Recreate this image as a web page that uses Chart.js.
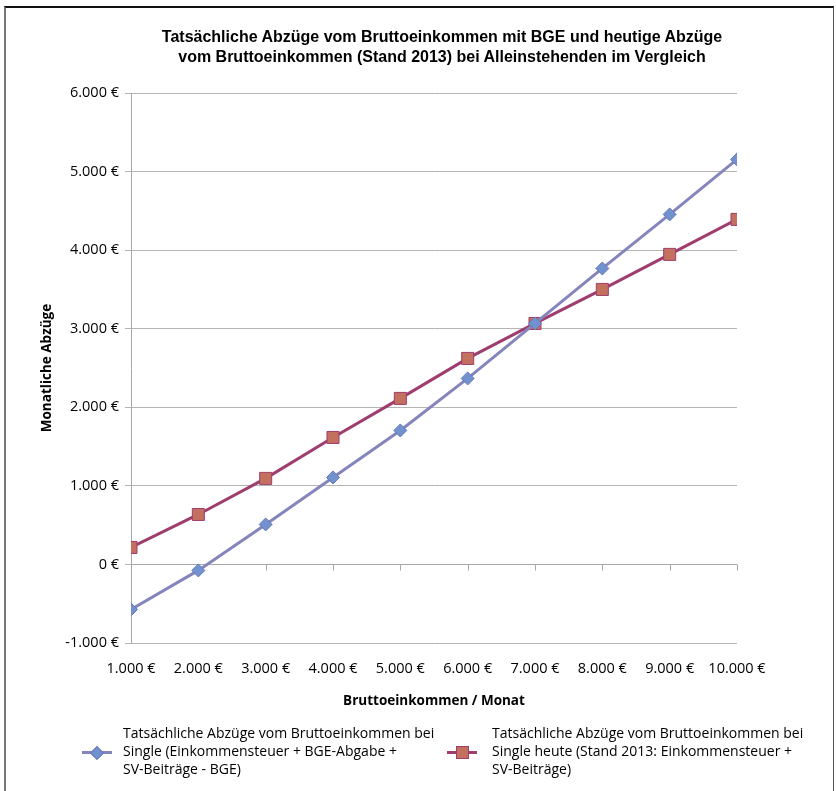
<!DOCTYPE html>
<html>
<head>
<meta charset="utf-8">
<script src="https://cdn.jsdelivr.net/npm/chart.js@4"></script>
<style>
  html, body { margin:0; padding:0; background:#fff; }
  #wrap { position:relative; width:836px; height:791px; overflow:hidden; }
  #frame { position:absolute; left:4px; top:6px; width:830px; height:790px;
           border-top:2px solid #111; border-left:2px solid #777; border-right:1px solid #555; box-sizing:border-box; }
  #chart { position:absolute; left:0; top:0; }
  #title { position:absolute; left:0; width:884px; top:27px; text-align:center;
           font:bold 16px "Liberation Sans", Arial, sans-serif; line-height:20px; color:#000; }
  .leg { position:absolute; top:724px; font:14px "Open Sans", sans-serif; line-height:18px; color:#000; }
  .leg .txt { position:absolute; white-space:nowrap; }
  .leg .ln { position:absolute; height:3px; top:27px; }
  .leg .mk { position:absolute; }
</style>
</head>
<body>
<div id="wrap">
  <canvas id="chart" width="836" height="791"></canvas>
  <div id="frame"></div>
  <div id="title">Tatsächliche Abzüge vom Bruttoeinkommen mit BGE und heutige Abzüge<br>vom Bruttoeinkommen (Stand 2013) bei Alleinstehenden im Vergleich</div>
  <div class="leg" style="left:82px">
    <div class="ln" style="left:0;width:30px;background:#8585bd"></div>
    <div class="mk" style="left:10px;top:24px;width:8px;height:8px;background:#7292cf;border:1px solid #6677bb;transform:rotate(45deg)"></div>
    <div class="txt" style="left:41px">Tatsächliche Abzüge vom Bruttoeinkommen bei<br>Single (Einkommensteuer + BGE-Abgabe +<br>SV-Beiträge - BGE)</div>
  </div>
  <div class="leg" style="left:447px">
    <div class="ln" style="left:0;width:30px;background:#9e3d6e"></div>
    <div class="mk" style="left:9px;top:22px;width:11px;height:11px;background:#c4705e;border:1px solid #9e3d6e"></div>
    <div class="txt" style="left:45px">Tatsächliche Abzüge vom Bruttoeinkommen bei<br>Single heute (Stand 2013: Einkommensteuer +<br>SV-Beiträge)</div>
  </div>
</div>
<script>
// ── data ──────────────────────────────────────────────
const incomes   = [1000, 2000, 3000, 4000, 5000, 6000, 7000, 8000, 9000, 10000];
const withBGE   = [-573, -76, 509, 1107, 1705, 2367, 3067, 3767, 4455, 5155];
const today2013 = [216, 636, 1095, 1616, 2113, 2622, 3067, 3500, 3946, 4391];
const yMin = -1000, yMax = 6000, yStep = 1000;

const euro = v => v.toLocaleString('de-DE') + ' €';
const tickFont = { family: '"Open Sans", sans-serif', size: 14.5 };

// small tick marks hanging below the zero line, like the category axis in the original
const zeroAxisTicks = {
  id: 'zeroAxisTicks',
  beforeDatasetsDraw(chart) {
    const { ctx, scales: { x, y } } = chart;
    const y0 = Math.round(y.getPixelForValue(0)) + 0.5;
    ctx.save();
    ctx.strokeStyle = '#a8a8a8';
    ctx.lineWidth = 1;
    ctx.beginPath();
    ctx.moveTo(x.left, y0);
    ctx.lineTo(x.right, y0);
    incomes.forEach(v => {
      const px = Math.round(x.getPixelForValue(v)) + 0.5;
      ctx.moveTo(px, y0);
      ctx.lineTo(px, y0 + 6);
    });
    ctx.stroke();
    ctx.restore();
  }
};

new Chart(document.getElementById('chart'), {
  type: 'line',
  data: {
    datasets: [{
      label: 'Tatsächliche Abzüge vom Bruttoeinkommen bei Single (Einkommensteuer + BGE-Abgabe + SV-Beiträge - BGE)',
      data: incomes.map((x, i) => ({ x, y: withBGE[i] })),
      borderColor: '#8585bd',
      borderWidth: 3,
      pointStyle: 'rectRot',
      pointRadius: 6.5,
      pointBackgroundColor: '#7292cf',
      pointBorderColor: '#6677bb',
      pointBorderWidth: 1,
    }, {
      label: 'Tatsächliche Abzüge vom Bruttoeinkommen bei Single heute (Stand 2013: Einkommensteuer + SV-Beiträge)',
      data: incomes.map((x, i) => ({ x, y: today2013[i] })),
      borderColor: '#9e3d6e',
      borderWidth: 3,
      pointStyle: 'rect',
      pointRadius: 8.5,
      pointBackgroundColor: '#c4705e',
      pointBorderColor: '#9e3d6e',
      pointBorderWidth: 1,
    }],
  },
  options: {
    responsive: false,
    animation: false,
    layout: { padding: { top: 93, right: 99, bottom: 82, left: 35 } },
    plugins: { legend: { display: false }, tooltip: { enabled: false } },
    scales: {
      x: {
        type: 'linear',
        min: incomes[0], max: incomes[incomes.length - 1],
        afterBuildTicks: s => { s.ticks = incomes.map(v => ({ value: v })); },
        grid: { display: false },
        border: { display: false },
        ticks: { callback: v => euro(v), color: '#000', font: tickFont, padding: 9, maxRotation: 0 },
        title: { display: true, text: 'Bruttoeinkommen / Monat', color: '#000',
                 font: { family: '"Open Sans", sans-serif', size: 13.5, weight: 'bold' }, padding: { top: 4, bottom: 0 } },
        afterFit: s => { s.height = 66; },
      },
      y: {
        min: yMin, max: yMax,
        ticks: { stepSize: yStep, callback: v => euro(v), color: '#000', font: tickFont, padding: 6 },
        grid: { color: '#b4b4b4', tickLength: 6, tickColor: '#b4b4b4' },
        border: { color: '#a8a8a8' },
        title: { display: true, text: 'Monatliche Abzüge', color: '#000',
                 font: { family: '"Open Sans", sans-serif', size: 13.5, weight: 'bold' } },
        afterFit: s => { s.width = 96; },
      },
    },
  },
  plugins: [zeroAxisTicks],
});
</script>
</body>
</html>
